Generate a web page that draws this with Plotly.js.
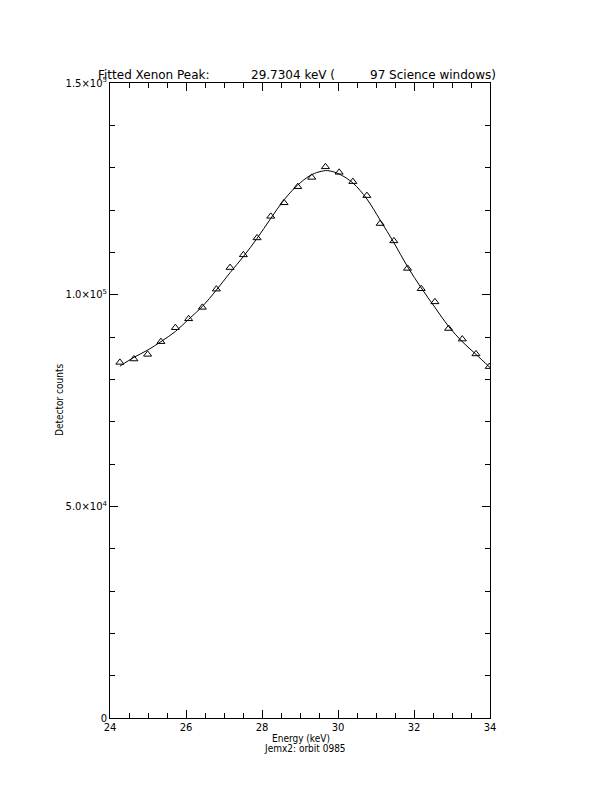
<!DOCTYPE html>
<html>
<head>
<meta charset="utf-8">
<script src="https://cdn.plot.ly/plotly-3.0.1.min.js"></script>
<style>html,body{margin:0;padding:0;background:#fff;}#chart{width:612px;height:792px;}</style>
</head>
<body>
<div id="chart"></div>
<script>
// Measured data points (energy keV, detector counts)
const energy = [24.26, 24.63, 24.99, 25.34, 25.72, 26.07, 26.43, 26.80, 27.16, 27.51,
                27.87, 28.23, 28.58, 28.94, 29.31, 29.67, 30.03, 30.39, 30.76, 31.11,
                31.47, 31.83, 32.19, 32.55, 32.91, 33.27, 33.63, 33.98];
const counts = [84000, 84800, 85900, 88900, 92200, 94300, 97000, 101300, 106400, 109400,
                113400, 118500, 121700, 125500, 127700, 130200, 128900, 126700, 123400, 116800,
                112700, 106200, 101400, 98300, 92000, 89500, 86000, 83000];

// Fitted curve
const fitEnergy = [24.26, 24.63, 24.99, 25.34, 25.72, 26.07, 26.43, 26.80, 27.16, 27.51,
                   27.87, 28.23, 28.58, 28.94, 29.26, 29.50, 29.73, 30.03, 30.39, 30.76,
                   31.11, 31.47, 31.83, 32.19, 32.55, 32.91, 33.27, 33.63, 34.00];
const fitCounts = [83100, 85200, 86900, 88900, 91300, 94200, 97200, 101100, 105200, 109000,
                   113300, 118000, 122400, 125900, 128100, 129000, 129300, 128500, 126400, 122600,
                   117600, 112300, 106600, 101600, 97000, 92500, 88900, 85900, 82800];

const yTickVals = [0, 50000, 100000, 150000];
const yTickText = ['0', '5.0×10<sup>4</sup>', '1.0×10<sup>5</sup>', '1.5×10<sup>5</sup>'];
const xTickVals = [24, 26, 28, 30, 32, 34];
const xTickText = ['24', '26', '28', '30', '32', '34'];

const font = {family: 'DejaVu Sans, sans-serif', size: 10, color: '#000'};
const titleFont = {family: 'DejaVu Sans, sans-serif', size: 12, color: '#000'};
const condFont = {family: 'DejaVu Sans Condensed, DejaVu Sans, sans-serif', size: 10, color: '#000'};

const traces = [
  {x: energy, y: counts, type: 'scatter', mode: 'markers',
   marker: {symbol: 'triangle-up-open', size: 7, color: '#000', line: {width: 1, color: '#000'}},
   hoverinfo: 'none'},
  {x: fitEnergy, y: fitCounts, type: 'scatter', mode: 'lines',
   line: {color: '#000', width: 1, shape: 'spline', smoothing: 1}, hoverinfo: 'none'}
];

function px(x) { return (x - 110) / 380; }
function py(y) { return (718 - y) / 635; }

const layout = {
  width: 612, height: 792,
  margin: {l: 110, r: 122, t: 83, b: 74},
  paper_bgcolor: '#fff', plot_bgcolor: '#fff',
  showlegend: false,
  font: font,
  xaxis: {
    range: [24, 34], showgrid: false, zeroline: false,
    showline: true, linecolor: '#000', linewidth: 1, mirror: 'allticks',
    ticks: 'inside', ticklen: 8, tickcolor: '#000', tickwidth: 1,
    tickmode: 'array', tickvals: xTickVals, ticktext: xTickText,
    tickfont: font,
    minor: {dtick: 0.5, tick0: 24, ticks: 'inside', ticklen: 5, tickcolor: '#000', tickwidth: 1, showgrid: false}
  },
  yaxis: {
    range: [0, 150000], showgrid: false, zeroline: false,
    showline: true, linecolor: '#000', linewidth: 1, mirror: 'allticks',
    ticks: 'inside', ticklen: 8, tickcolor: '#000', tickwidth: 1,
    tickmode: 'array', tickvals: yTickVals, ticktext: yTickText,
    tickfont: font,
    minor: {dtick: 10000, tick0: 0, ticks: 'inside', ticklen: 5, tickcolor: '#000', tickwidth: 1, showgrid: false}
  },
  annotations: [
    {text: 'Fitted Xenon Peak:', xref: 'paper', yref: 'paper', x: px(96), y: py(75), xanchor: 'left', yanchor: 'middle', showarrow: false, font: titleFont},
    {text: '29.7304 keV (', xref: 'paper', yref: 'paper', x: px(249), y: py(75), xanchor: 'left', yanchor: 'middle', showarrow: false, font: titleFont},
    {text: '97 Science windows)', xref: 'paper', yref: 'paper', x: px(498), y: py(75), xanchor: 'right', yanchor: 'middle', showarrow: false, font: titleFont},
    {text: 'Detector counts', xref: 'paper', yref: 'paper', x: px(59), y: py(400), xanchor: 'center', yanchor: 'middle', textangle: -90, showarrow: false, font: condFont},
    {text: 'Energy (keV)', xref: 'paper', yref: 'paper', x: px(301), y: py(738), xanchor: 'center', yanchor: 'middle', showarrow: false, font: condFont},
    {text: 'Jemx2: orbit 0985', xref: 'paper', yref: 'paper', x: px(305), y: py(748), xanchor: 'center', yanchor: 'middle', showarrow: false, font: condFont}
  ]
};

Plotly.newPlot('chart', traces, layout, {displayModeBar: false, staticPlot: true});
</script>
</body>
</html>
